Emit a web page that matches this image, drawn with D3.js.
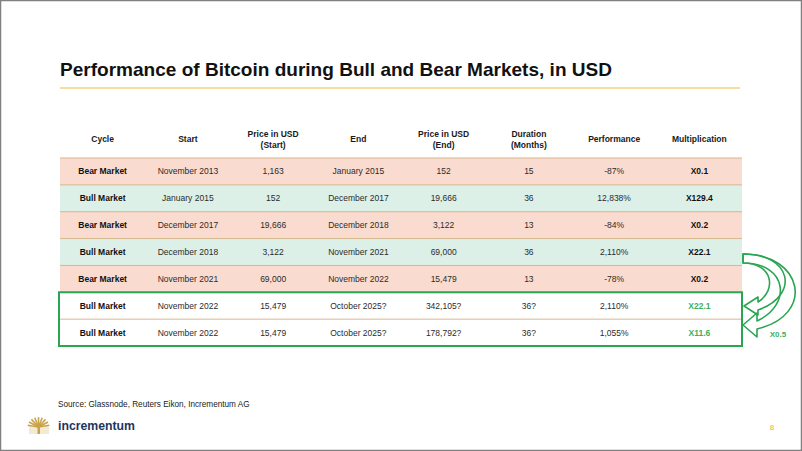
<!DOCTYPE html>
<html><head><meta charset="utf-8">
<script src="https://cdn.jsdelivr.net/npm/d3@7"></script>
<style>html,body{margin:0;padding:0;background:#fff;} svg{display:block;font-family:"Liberation Sans",Arial,sans-serif;}</style>
</head><body><svg id="c" width="802" height="451"></svg>
<script>
const title = "Performance of Bitcoin during Bull and Bear Markets, in USD";
const headers = [["Cycle"],["Start"],["Price in USD","(Start)"],["End"],["Price in USD","(End)"],["Duration","(Months)"],["Performance"],["Multiplication"]];
const cycles = ["Bear Market","Bull Market","Bear Market","Bull Market","Bear Market","Bull Market","Bull Market"];
const starts = ["November 2013","January 2015","December 2017","December 2018","November 2021","November 2022","November 2022"];
const priceStart = [1163,152,19666,3122,69000,15479,15479];
const ends = ["January 2015","December 2017","December 2018","November 2021","November 2022","October 2025?","October 2025?"];
const priceEnd = [152,19666,3122,69000,15479,342105,178792];
const durations = [15,36,13,36,13,36,36];
const performance = [-87,12838,-84,2110,-78,2110,1055];
const multiplication = [0.1,129.4,0.2,22.1,0.2,22.1,11.6];
const rowKind = ["bear","bull","bear","bull","bear","projection","projection"];
const projectionFactor = "X0.5";
const source = "Source: Glassnode, Reuters Eikon, Incrementum AG";
const pageNumber = "8";

const svg = d3.select("#c");
const green = "#2aa552";
const fmt = d3.formatLocale({decimal:".", thousands:",", grouping:[3], currency:["$",""], minus:"-"}).format(",");

// frame
svg.append("rect").attr("x",0.5).attr("y",0.5).attr("width",801).attr("height",450)
  .attr("fill","#fff").attr("stroke","#808080").attr("stroke-width",1.5);

// title
svg.append("text").attr("x",60).attr("y",75.5).attr("font-size",18.5).attr("font-weight","bold")
  .attr("fill","#111").attr("textLength",552).attr("lengthAdjust","spacingAndGlyphs").text(title);
svg.append("line").attr("x1",60).attr("x2",740).attr("y1",88).attr("y2",88)
  .attr("stroke","#f3d37e").attr("stroke-width",1.3);

const x = d3.scaleBand().domain(d3.range(headers.length)).range([60,742]);
const y = d3.scaleBand().domain(d3.range(cycles.length)).range([158,346]);
const bw = y.bandwidth();
const fills = {bear:"#fadbcf", bull:"#dcf0e8", projection:"#ffffff"};

// header
headers.forEach((h,i)=>{
  const cx = x(i)+x.bandwidth()/2;
  const t = svg.append("text").attr("x",cx).attr("text-anchor","middle")
    .attr("font-size",8.5).attr("font-weight","bold").attr("fill","#1a1a1a");
  if(h.length===1){ t.attr("y",142).text(h[0]); }
  else {
    t.append("tspan").attr("x",cx).attr("y",137).text(h[0]);
    t.append("tspan").attr("x",cx).attr("y",148).text(h[1]);
  }
});

// rows
const rows = svg.append("g");
rows.selectAll("rect.row").data(rowKind).join("rect").attr("class","row")
  .attr("x",60).attr("width",682).attr("y",(d,i)=>y(i)).attr("height",bw)
  .attr("fill",d=>fills[d]);
rows.selectAll("line.sep").data(rowKind).join("line").attr("class","sep")
  .attr("x1",60).attr("x2",742).attr("y1",(d,i)=>y(i)).attr("y2",(d,i)=>y(i))
  .attr("stroke","#d5b78c").attr("stroke-width",1);

const cells = cycles.map((c,i)=>{
  const q = rowKind[i]==="projection" ? "?" : "";
  return [
    {t:c, bold:true},
    {t:starts[i]},
    {t:fmt(priceStart[i])},
    {t:ends[i]},
    {t:fmt(priceEnd[i])+q},
    {t:durations[i]+q},
    {t:fmt(performance[i])+"%"},
    {t:"X"+multiplication[i], bold:true, color: rowKind[i]==="projection" ? "#3bb062" : "#111"}
  ];
});
cells.forEach((r,i)=>{
  r.forEach((c,j)=>{
    svg.append("text").attr("x",x(j)+x.bandwidth()/2).attr("y",y(i)+bw/2+3)
      .attr("text-anchor","middle").attr("font-size",8.5)
      .attr("font-weight",c.bold?"bold":"normal")
      .attr("fill",c.color || (c.bold?"#111":"#2b2b2b")).text(c.t);
  });
});

// projection box
svg.append("rect").attr("x",59).attr("y",y(5)).attr("width",683).attr("height",2*bw)
  .attr("fill","none").attr("stroke",green).attr("stroke-width",2);

// curved arrows
const arrows = [
  "M743,254 C803,254 816,315 757,329 L757,337 L743,325 L757,313 L757,321 C792,305 788,263 743,263 Z",
  "M743,254 C792,254 800,295 758,310 L758,315 L744,306 L758,297 L758,302 C777,290 773,263 743,263 Z"
];
svg.selectAll("path.arr").data(arrows).join("path").attr("class","arr")
  .attr("d",d=>d).attr("fill","none").attr("stroke",green).attr("stroke-width",1.6)
  .attr("stroke-linejoin","round");
svg.append("text").attr("x",778).attr("y",337).attr("text-anchor","middle")
  .attr("font-size",8).attr("font-weight","bold").attr("fill","#3bb062").text(projectionFactor);

// source
svg.append("text").attr("x",58).attr("y",407).attr("font-size",8.2).attr("fill","#222").text(source);

// logo
const logo = svg.append("g");
logo.append("rect").attr("x",29).attr("y",426).attr("width",20).attr("height",8).attr("fill","#f3ead2");
const ang = d3.range(-80,81,20);
ang.forEach(a=>{
  const r = a*Math.PI/180;
  logo.append("line").attr("x1",38.5).attr("y1",427).attr("x2",38.5+11*Math.sin(r)).attr("y2",427-11*Math.cos(r)*0.9)
    .attr("stroke","#caa24a").attr("stroke-width",1.6);
});
logo.append("rect").attr("x",37.5).attr("y",423).attr("width",2.5).attr("height",11).attr("fill","#caa24a");
logo.append("text").attr("x",58).attr("y",430).attr("font-size",13.5).attr("font-weight","bold")
  .attr("fill","#1f355e").attr("textLength",77).attr("lengthAdjust","spacingAndGlyphs").text("incrementum");

svg.append("text").attr("x",772).attr("y",430).attr("text-anchor","middle").attr("font-size",8)
  .attr("fill","#f0b400").text(pageNumber);
</script></body></html>
